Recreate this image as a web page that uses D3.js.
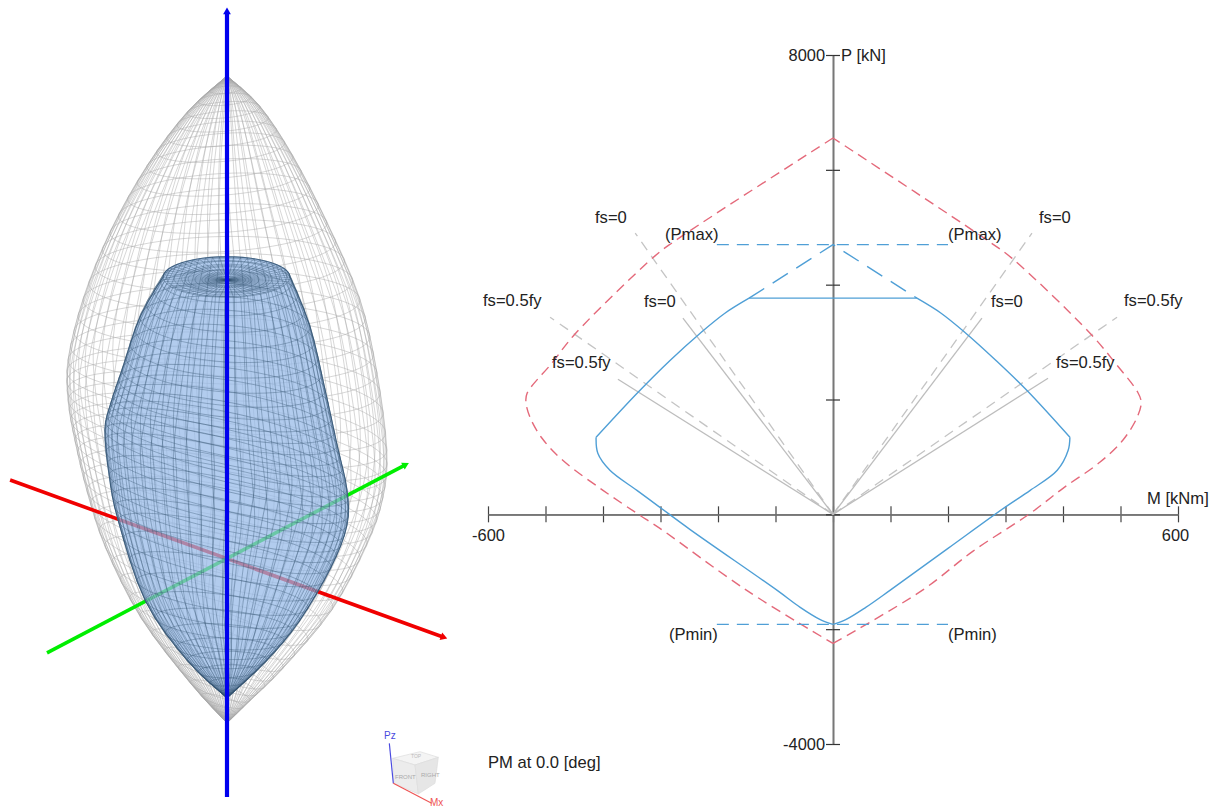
<!DOCTYPE html>
<html>
<head>
<meta charset="utf-8">
<script src="https://cdn.jsdelivr.net/npm/d3@7"></script>
<style>
  html, body { margin: 0; background: #fff; overflow: hidden; }
  text { font-family: "Liberation Sans", Arial, sans-serif; fill: #222; }
</style>
</head>
<body>
<div id="chart"></div>
<script>
// PM chart values (M in kNm, P in kN)
const xTicks = [-600, -500, -400, -300, -200, -100, 0, 100, 200, 300, 400, 500, 600];
const yTicks = [-4000, -2000, 0, 2000, 4000, 6000, 8000];
const xTickLabels = { "-600": "-600", "600": "600" };
const yTickLabels = { "-4000": "-4000", "8000": "8000" };

const redM = [0, -278, -310, -449, -489, -532, -534, -527, -506, -470, -400, -341, -301, -150, 0, 155, 243, 343, 400, 464, 504, 529, 536, 530, 494, 447, 311, 273, 0];
const redP = [6554, 4741, 4497, 3137, 2632, 2109, 1952, 1691, 1325, 941, 418, 17, -244, -1325, -2248, -1325, -645, 17, 453, 906, 1290, 1691, 1952, 2126, 2597, 3155, 4462, 4741, 6554];
const redCorners = [0, 14, 28];

const blueM = [-146, -188, -231, -283, -339, -412, -409, -388, -341, -301, -249, -97, -57, -23, 0, 23, 57, 99, 200, 299, 343, 390, 409, 412, 337, 283, 231, 188, 146, -146];
const blueP = [3765, 3503, 3155, 2684, 2126, 1342, 1063, 767, 418, 122, -261, -1325, -1621, -1830, -1917, -1830, -1621, -1325, -593, 122, 418, 767, 1115, 1342, 2161, 2684, 3155, 3503, 3765, 3765];
const blueCorners = [0, 5, 14, 23, 28, 29];

const pmaxDashM = [-202, 200];
const pmaxDashP = 4697;
const pminDashP = -1917;
const capDashM = [-146, 0, 146];
const capDashP = [3765, 4697, 3765];

const rayDashM = [-344, -492, 346, 494];
const rayDashP = [4898, 3434, 4898, 3434];
const raySolidM = [-261, -374, 259, 374];
const raySolidP = [3416, 2353, 3416, 2370];

// 3d surfaces: outline rows, each row is one ring (left end, right end)
const outerLeftM = [0, -133, -267, -390, -480, -530, -530, -507, -467, -407, -290, -123, 0];
const outerLeftP = [6522, 6022, 5291, 4398, 3491, 2679, 2138, 1597, 920, 176, -771, -1678, -2233];
const outerRightM = [0, 110, 220, 333, 443, 500, 533, 520, 467, 353, 187, 77, 0];
const outerRightP = [6522, 6103, 5426, 4533, 3491, 2503, 1461, 825, 203, -663, -1475, -1922, -2233];
const outerDepth = [0.22, 0.22, 0.22, 0.22, 0.22, 0.22, 0.22, 0.22, 0.22, 0.22, 0.22, 0.22, 0.22];

const innerLeftM = [0, -73, -140, -213, -290, -350, -387, -407, -393, -363, -273, -133, 0];
const innerLeftP = [3762, 3762, 3775, 3802, 3261, 2544, 2097, 1732, 1123, 514, -568, -1380, -1894];
const innerRightM = [0, 73, 140, 210, 277, 327, 367, 400, 400, 347, 243, 133, 0];
const innerRightP = [3762, 3762, 3775, 3802, 3126, 2273, 1529, 920, 447, -122, -839, -1380, -1894];
const innerDepth = [0.32, 0.32, 0.32, 0.32, 0.3, 0.25, 0.2, 0.18, 0.18, 0.18, 0.2, 0.22, 0.22];

const axisZ = [-3234, 7388];
const axisRedM = [-723, 720];
const axisRedP = [1055, -1069];
const axisGreenM = [-600, 593];
const axisGreenP = [-1285, 1258];

const width = 1221;
const height = 808;

const x = d3.scaleLinear().domain([-600, 600]).range([488, 1178]);
const y = d3.scaleLinear().domain([-4000, 8000]).range([744, 55]);

// scales of the 3d view
const x3 = d3.scaleLinear().domain([-600, 600]).range([47, 407]);
const y3 = d3.scaleLinear().domain([-4000, 8000]).range([853.6, -33.2]);

const svg = d3.select("#chart")
    .append("svg")
    .attr("width", width)
    .attr("height", height)
    .attr("viewBox", [0, 0, width, height]);

const line = d3.line();
const smoothLine = d3.line().curve(d3.curveCatmullRom.alpha(0.5));
const xy = (ms, ps) => ms.map((m, i) => [x(m), y(ps[i])]);

// ---- right: PM chart ----

const pm = svg.append("g");

const drawAxis = (axis, tx, ty, color) => {
    const g = pm.append("g")
        .attr("transform", `translate(${tx},${ty})`)
        .call(axis);
    g.select(".domain").attr("stroke", "#777").attr("stroke-width", 1.6);
    g.selectAll(".tick line").attr("stroke", color).attr("stroke-width", 1.2);
    g.selectAll("text").attr("font-size", 16.4).attr("font-family", "Liberation Sans").attr("fill", "#222");
    return g;
};

const xAxisG = drawAxis(d3.axisBottom(x).tickValues(xTicks).tickSize(8).tickSizeOuter(0).tickPadding(7)
    .tickFormat(d => xTickLabels[d] || ""), 0, y(0), "#444");
xAxisG.selectAll(".tick text").filter(d => d === 600).attr("dx", -3);
drawAxis(d3.axisTop(x).tickValues(xTicks).tickSize(8).tickSizeOuter(0).tickFormat(""), 0, y(0), "#444");
drawAxis(d3.axisLeft(y).tickValues(yTicks).tickSize(7).tickSizeOuter(0).tickPadding(1)
    .tickFormat(d => yTickLabels[d] || ""), x(0), 0, "#333");
drawAxis(d3.axisRight(y).tickValues(yTicks).tickSize(7).tickSizeOuter(0).tickFormat(""), x(0), 0, "#333");

// gray rays from the origin
rayDashM.forEach((m, i) => {
    pm.append("path")
        .attr("d", line([[x(0), y(0)], [x(m), y(rayDashP[i])]]))
        .attr("fill", "none").attr("stroke", "#c4c4c4").attr("stroke-width", 1.3)
        .attr("stroke-dasharray", "10 7");
});
raySolidM.forEach((m, i) => {
    pm.append("path")
        .attr("d", line([[x(0), y(0)], [x(m), y(raySolidP[i])]]))
        .attr("fill", "none").attr("stroke", "#bdbdbd").attr("stroke-width", 1.3);
});

// curves are smooth between their corners
const pieces = (pts, corners) => d3.pairs(corners).map(([a, b]) => pts.slice(a, b + 1));

pm.append("g").selectAll("path")
    .data(pieces(xy(redM, redP), redCorners))
    .join("path")
    .attr("d", smoothLine)
    .attr("fill", "none").attr("stroke", "#e4697a").attr("stroke-width", 1.4)
    .attr("stroke-dasharray", "10 6");

pm.append("g").selectAll("path")
    .data(pieces(xy(blueM, blueP), blueCorners))
    .join("path")
    .attr("d", smoothLine)
    .attr("fill", "none").attr("stroke", "#4f9fd6").attr("stroke-width", 1.4);

[pmaxDashP, pminDashP].forEach(p => {
    pm.append("path")
        .attr("d", line(pmaxDashM.map(m => [x(m), y(p)])))
        .attr("fill", "none").attr("stroke", "#4f9fd6").attr("stroke-width", 1.4)
        .attr("stroke-dasharray", "12 8");
});
pm.append("path")
    .attr("d", line(xy(capDashM, capDashP)))
    .attr("fill", "none").attr("stroke", "#4f9fd6").attr("stroke-width", 1.4)
    .attr("stroke-dasharray", "18 10");

const labels = [
    ["fs=0", 595, 223], ["fs=0", 1039, 223],
    ["(Pmax)", 665, 240], ["(Pmax)", 948, 240],
    ["fs=0.5fy", 483, 306], ["fs=0", 644, 307],
    ["fs=0", 991, 307], ["fs=0.5fy", 1124, 306],
    ["fs=0.5fy", 552, 368], ["fs=0.5fy", 1056, 368],
    ["(Pmin)", 669, 640], ["(Pmin)", 948, 640],
    ["M [kNm]", 1147, 504], ["P [kN]", 841, 61],
    ["PM at 0.0 [deg]", 488, 768]
];
svg.append("g").selectAll("text")
    .data(labels)
    .join("text")
    .attr("x", d => d[1])
    .attr("y", d => d[2])
    .attr("font-size", 16.6)
    .text(d => d[0]);

// ---- left: 3d surfaces ----

const view = svg.append("g");

// rows between the read outline rows are only there to thicken the wireframe
function hermite(arr, flatUpto) {
    const n = arr.length;
    const slope = i => {
        if (i <= flatUpto) return 0;
        return (arr[Math.min(i + 1, n - 1)] - arr[Math.max(i - 1, 0)]) / 2;
    };
    return t => {
        const i = Math.min(Math.floor(t), n - 2);
        const u = t - i;
        const u2 = u * u, u3 = u2 * u;
        return (2 * u3 - 3 * u2 + 1) * arr[i] + (u3 - 2 * u2 + u) * slope(i)
            + (-2 * u3 + 3 * u2) * arr[i + 1] + (u3 - u2) * slope(i + 1);
    };
}

function buildRings(leftM, leftP, rightM, rightP, depth, perRow, flatUpto) {
    const lm = hermite(leftM, flatUpto), lp = hermite(leftP, flatUpto);
    const rm = hermite(rightM, flatUpto), rp = hermite(rightP, flatUpto);
    const dp = hermite(depth, flatUpto);
    const rows = d3.range(0, (leftM.length - 1) * perRow + 1).map(i => i / perRow);
    return rows.map(t => ({
        l: [x3(lm(t)), y3(lp(t))],
        r: [x3(rm(t)), y3(rp(t))],
        depth: dp(t)
    }));
}

function ringPoint(ring, a) {
    const cx = (ring.l[0] + ring.r[0]) / 2;
    const cy = (ring.l[1] + ring.r[1]) / 2;
    const hx = (ring.r[0] - ring.l[0]) / 2;
    const hy = (ring.r[1] - ring.l[1]) / 2;
    return [cx + Math.cos(a) * hx, cy + Math.cos(a) * hy + Math.sin(a) * hx * ring.depth];
}

function drawMesh(rings, meridians, color, w, opacity) {
    const g = view.append("g")
        .attr("fill", "none").attr("stroke", color)
        .attr("stroke-width", w).attr("stroke-opacity", opacity);
    const angles = d3.range(0, 73).map(i => i / 72 * 2 * Math.PI);
    g.selectAll("path.ring")
        .data(rings)
        .join("path")
        .attr("class", "ring")
        .attr("d", r => line(angles.map(a => ringPoint(r, a))));
    const mer = d3.range(meridians).map(i => i / meridians * 2 * Math.PI);
    g.selectAll("path.mer")
        .data(mer)
        .join("path")
        .attr("class", "mer")
        .attr("d", a => line(rings.map(r => ringPoint(r, a))));
}

const outerRings = buildRings(outerLeftM, outerLeftP, outerRightM, outerRightP, outerDepth, 4, -1);
const innerRings = buildRings(innerLeftM, innerLeftP, innerRightM, innerRightP, innerDepth, 4, 3);

drawMesh(outerRings, 64, "#a6a6a6", 0.65, 0.7);

const axis3 = (ms, ps, color, w) => view.append("path")
    .attr("d", line(ms.map((m, i) => [x3(m), y3(ps[i])])))
    .attr("fill", "none").attr("stroke", color).attr("stroke-width", w);

axis3(axisRedM, axisRedP, "#f00000", 3.6);
axis3(axisGreenM, axisGreenP, "#00ee00", 3.6);

const arrow = (ms, ps, color, size) => {
    const [x0, y0] = [x3(ms[0]), y3(ps[0])];
    const [x1, y1] = [x3(ms[1]), y3(ps[1])];
    const deg = Math.atan2(y1 - y0, x1 - x0) * 180 / Math.PI + 90;
    view.append("path")
        .attr("d", d3.symbol(d3.symbolTriangle, size)())
        .attr("transform", `translate(${x1},${y1}) rotate(${deg})`)
        .attr("fill", color);
};
arrow(axisRedM, axisRedP, "#f00000", 26);
arrow(axisGreenM, axisGreenP, "#00ee00", 26);

// inner solid: outline made of the ring ends plus the back of the top cap
const capRow = 12;
const capBack = d3.range(0, 25).map(i => ringPoint(innerRings[capRow], Math.PI + i / 24 * Math.PI));
const innerOutline = [
    ...capBack,
    ...innerRings.slice(capRow).map(r => r.r),
    ...innerRings.slice(capRow).reverse().map(r => r.l)
];
view.append("path")
    .attr("d", line(innerOutline) + "Z")
    .attr("fill", "#94b9e8").attr("fill-opacity", 0.72)
    .attr("stroke", "#4f7092").attr("stroke-width", 1.1);

drawMesh(innerRings, 56, "#34526f", 0.65, 0.55);

axis3([0, 0], axisZ, "#0000ee", 4.2);
arrow([0, 0], axisZ, "#0000ee", 26);

// ---- view cube ----
const cube = svg.append("g").attr("transform", "translate(370,720) scale(0.3333)");
const faces = [
    { pts: [[68, 115], [150, 95], [205, 112], [135, 135]], fill: "#f4f4f4" },
    { pts: [[68, 115], [135, 135], [145, 222], [72, 190]], fill: "#ececec" },
    { pts: [[135, 135], [205, 112], [195, 190], [145, 222]], fill: "#e6e6e6" }
];
cube.selectAll("path")
    .data(faces)
    .join("path")
    .attr("d", d => line(d.pts) + "Z")
    .attr("fill", d => d.fill)
    .attr("stroke", "#ddd")
    .attr("stroke-width", 2);
cube.append("path").attr("d", line([[70, 190], [58, 70]])).attr("stroke", "#4a4ae0").attr("stroke-width", 3.5).attr("fill", "none");
cube.append("path").attr("d", line([[70, 190], [185, 250]])).attr("stroke", "#ee5555").attr("stroke-width", 3.5).attr("fill", "none");

const cubeLabels = [
    ["Pz", 384, 739, 10, "#4a4ae0"],
    ["Mx", 430, 806, 10, "#ee5555"],
    ["FRONT", 395, 779, 6, "#aaa"],
    ["RIGHT", 421, 777, 6, "#aaa"],
    ["TOP", 411, 758, 5, "#bbb"]
];
svg.append("g").selectAll("text")
    .data(cubeLabels)
    .join("text")
    .attr("x", d => d[1])
    .attr("y", d => d[2])
    .attr("font-size", d => d[3])
    .style("fill", d => d[4])
    .text(d => d[0]);
</script>
</body>
</html>
